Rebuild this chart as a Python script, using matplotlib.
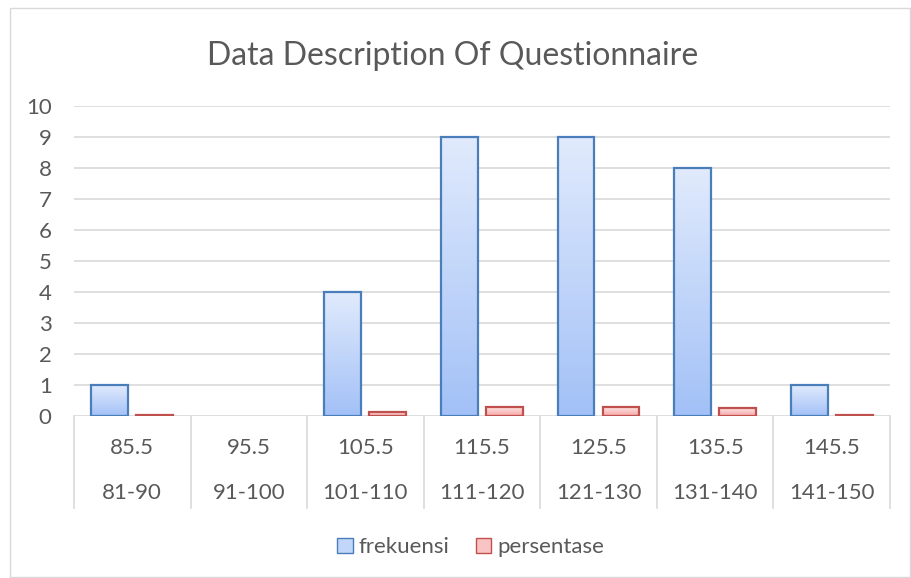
import numpy as np
import matplotlib
matplotlib.use("Agg")
import matplotlib.pyplot as plt
from matplotlib.patches import Rectangle, Patch
import matplotlib.transforms as mtrans

# data
midpoints = ["85.5", "95.5", "105.5", "115.5", "125.5", "135.5", "145.5"]
intervals = ["81-90", "91-100", "101-110", "111-120", "121-130", "131-140", "141-150"]
frekuensi = [1, 0, 4, 9, 9, 8, 1]
persentase = [0.03, 0.0, 0.13, 0.28, 0.28, 0.25, 0.03]

plt.rcParams['font.family'] = ['Lato', 'DejaVu Sans']
txt = '#595959'
grid = '#d9d9d9'

fig = plt.figure(figsize=(9.12, 5.78), dpi=100)
# outer chart border
fig.patches.append(Rectangle((0.011, 0.002), 0.987, 0.984, transform=fig.transFigure,
                             fill=False, edgecolor=grid, linewidth=1))

ax = fig.add_axes([0.0811, 0.2803, 0.8947, 0.5363])
ax.set_xlim(0, 7)
ax.set_ylim(0, 10)
for s in ax.spines.values():
    s.set_visible(False)
ax.set_yticks(range(11))
ax.tick_params(axis='y', length=0, labelsize=16, labelcolor=txt, pad=16)
ax.set_xticks([])
ax.yaxis.grid(True, color=grid, linewidth=1.2)
ax.set_axisbelow(True)


def grad_bar(x, h, w, top, bottom, edge):
    if h <= 0:
        return
    rect = Rectangle((x, 0), w, h, facecolor='none', edgecolor=edge, linewidth=1.6, zorder=3)
    ax.add_patch(rect)
    c1 = np.array(matplotlib.colors.to_rgb(top))
    c2 = np.array(matplotlib.colors.to_rgb(bottom))
    t = np.linspace(0, 1, 64)[:, None]
    img = (c1 * (1 - t) + c2 * t)[:, None, :]
    im = ax.imshow(img, extent=(x, x + w, 0, h), aspect='auto', origin='upper', zorder=2)
    im.set_clip_path(rect)


bw = 0.317
off = 0.193
for i in range(len(frekuensi)):
    c = i + 0.5
    grad_bar(c - off - bw / 2, frekuensi[i], bw, '#e0eafc', '#a3c1f7', '#4a7ebb')
    grad_bar(c + off - bw / 2, persentase[i], bw, '#fde2e2', '#f5a8a8', '#c0504d')

# two-level category axis
tr = mtrans.blended_transform_factory(ax.transData, ax.transAxes)
for k in range(8):
    ax.plot([k, k], [0, -0.297], transform=tr, color=grid, linewidth=1.2, clip_on=False)
for i in range(7):
    ax.text(i + 0.5, -0.103, midpoints[i], transform=tr, ha='center', va='center',
            fontsize=16, color=txt)
    ax.text(i + 0.5, -0.25, intervals[i], transform=tr, ha='center', va='center',
            fontsize=16, color=txt)

fig.text(0.496, 0.903, "Data Description Of Questionnaire", ha='center', va='center',
         fontsize=23, color=txt)

handles = [Patch(facecolor='#c2d6f9', edgecolor='#4a7ebb', label='frekuensi'),
           Patch(facecolor='#f9c4c4', edgecolor='#c0504d', label='persentase')]
fig.legend(handles=handles, loc='center', bbox_to_anchor=(0.516, 0.053), ncol=2,
           frameon=False, fontsize=16, labelcolor=txt, handlelength=0.7, handleheight=0.7,
           handletextpad=0.25, columnspacing=1.2)

fig.savefig("out.png", dpi=100)
